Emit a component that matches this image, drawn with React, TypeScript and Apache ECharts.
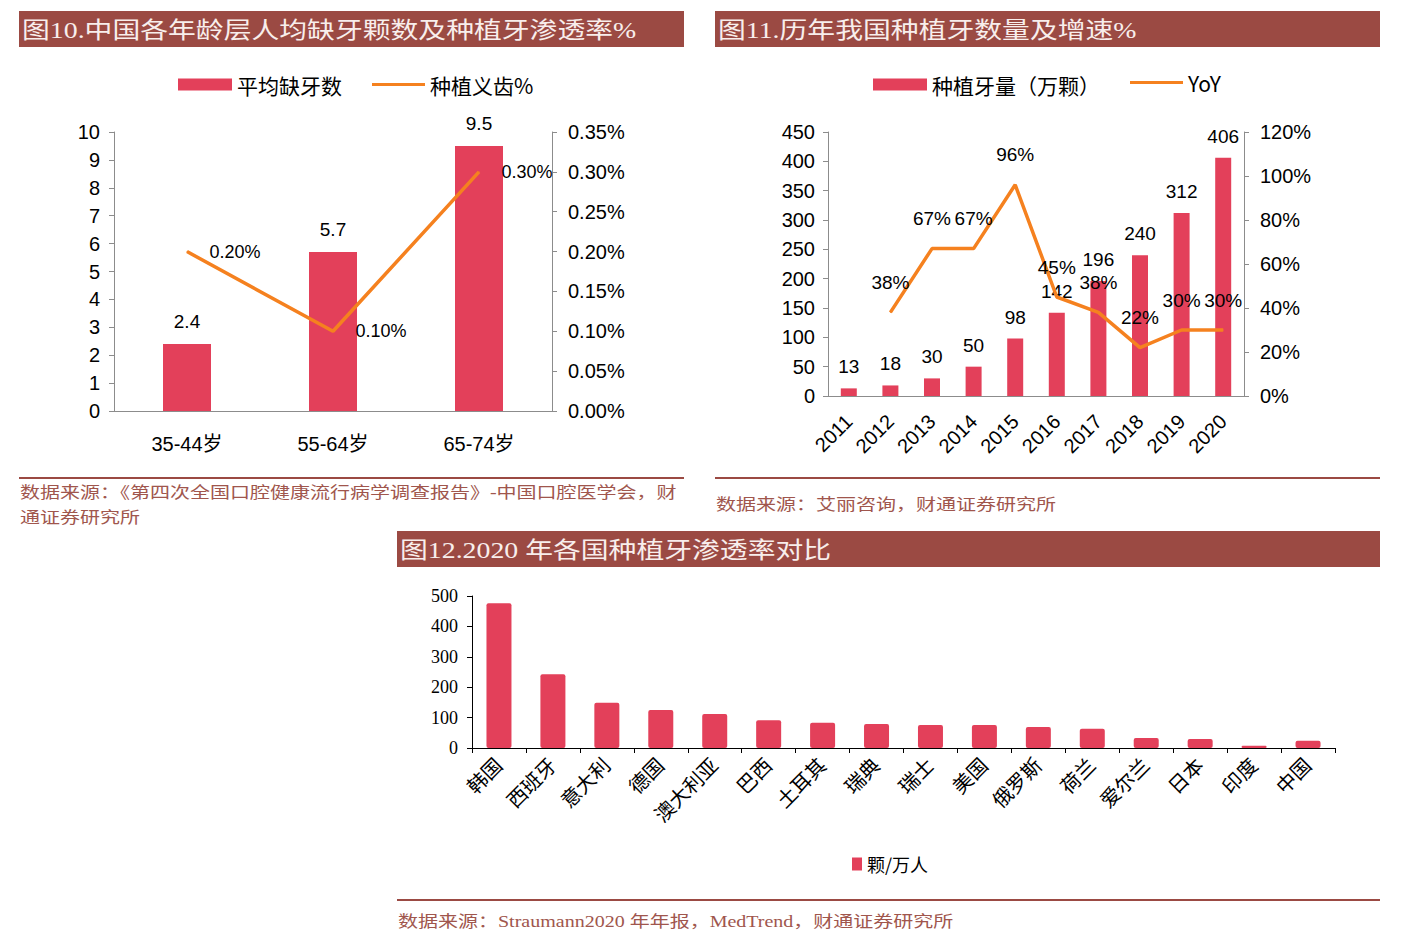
import React, { useEffect, useRef } from "react";
import * as echarts from "echarts";

// ---------- data ----------
const ageGroups = ["35-44岁", "55-64岁", "65-74岁"];
const missingTeeth = [2.4, 5.7, 9.5];
const implantRate = [0.2, 0.1, 0.3];

const years = ["2011", "2012", "2013", "2014", "2015", "2016", "2017", "2018", "2019", "2020"];
const implantCount = [13, 18, 30, 50, 98, 142, 196, 240, 312, 406];
const yoy = [null, 38, 67, 67, 96, 45, 38, 22, 30, 30];

const countries = ["韩国", "西班牙", "意大利", "德国", "澳大利亚", "巴西", "土耳其", "瑞典", "瑞士", "美国", "俄罗斯", "荷兰", "爱尔兰", "日本", "印度", "中国"];
const density = [476, 243, 149, 125, 112, 91, 83, 79, 76, 76, 69, 63, 33, 30, 7, 24];

const titles = [
  "图10.中国各年龄层人均缺牙颗数及种植牙渗透率%",
  "图11.历年我国种植牙数量及增速%",
  "图12.2020 年各国种植牙渗透率对比",
];
const sources = [
  "数据来源：《第四次全国口腔健康流行病学调查报告》-中国口腔医学会，财",
  "通证券研究所",
  "数据来源：艾丽咨询，财通证券研究所",
  "数据来源：Straumann2020 年年报，MedTrend，财通证券研究所",
];

// ---------- styles ----------
const RED = "#E3405A";
const ORANGE = "#F5811F";
const BROWN = "#9B4A43";
const GRAY = "#8C8C8C";
const SANS = "'Liberation Sans', 'Noto Sans CJK SC', sans-serif";
const SERIF = "'Liberation Serif', 'Noto Sans CJK SC', serif";
const CJK = "'Noto Sans CJK SC', 'Liberation Sans', sans-serif";

function headerText(text: string, x: number, y: number) {
  return {
    type: "text",
    x,
    y,
    scaleX: 1.21,
    z: 10,
    style: {
      text,
      fill: "#F8EEEC",
      fontSize: 23,
      fontFamily: SERIF,
      align: "left",
      verticalAlign: "middle",
    },
  };
}

function sourceText(text: string, x: number, y: number) {
  return {
    type: "text",
    x,
    y,
    scaleX: 1.25,
    style: {
      text,
      fill: "#A0564D",
      fontSize: 16,
      fontFamily: SERIF,
      align: "left",
      verticalAlign: "middle",
    },
  };
}

function legendCfg(name: string, left: number, top: number, w: number, h: number, fs: number) {
  return {
    data: [{ name, icon: "rect" }],
    left,
    top,
    padding: 0,
    itemGap: 0,
    itemWidth: w,
    itemHeight: h,
    textStyle: { fontSize: fs, fontFamily: CJK, color: "#000" },
  };
}

const axisLabelSans = { color: "#000", fontSize: 20, fontFamily: SANS };

export default function App() {
  const ref = useRef<HTMLDivElement>(null);

  useEffect(() => {
    if (!ref.current) return;
    const chart = echarts.init(ref.current, undefined, { renderer: "svg" });
    const option: any = {
      animation: false,
      backgroundColor: "#fff",
      grid: [
        { left: 114, top: 132, width: 438, height: 279 },
        { left: 828, top: 132, width: 416, height: 264 },
        { left: 472, top: 596, width: 863, height: 152 },
      ],
      legend: [
        legendCfg("平均缺牙数", 178, 74, 54, 12, 21),
        legendCfg("种植义齿%", 372, 74, 53, 3, 21),
        legendCfg("种植牙量（万颗）", 873, 74, 54, 12, 21),
        legendCfg("YoY", 1130, 72, 53, 3, 21),
        legendCfg("颗/万人", 852, 855, 10, 13, 18),
      ],
      xAxis: [
        {
          type: "category",
          gridIndex: 0,
          data: ageGroups,
          axisLine: { lineStyle: { color: GRAY, width: 1 } },
          axisTick: { show: false },
          axisLabel: { ...axisLabelSans, margin: 23 },
        },
        {
          type: "category",
          gridIndex: 1,
          data: years,
          axisLine: { lineStyle: { color: GRAY, width: 1 } },
          axisTick: { show: false },
          axisLabel: { ...axisLabelSans, fontSize: 20, rotate: 45, margin: 22, interval: 0 },
        },
        {
          type: "category",
          gridIndex: 2,
          data: countries,
          axisLine: { lineStyle: { color: "#000", width: 1 } },
          axisTick: { show: true, length: 5, lineStyle: { color: "#000" } },
          axisLabel: { color: "#000", fontSize: 20, fontFamily: SERIF, rotate: 45, margin: 14, interval: 0 },
        },
      ],
      yAxis: [
        {
          type: "value",
          gridIndex: 0,
          min: 0,
          max: 10,
          interval: 1,
          axisLine: { show: true, lineStyle: { color: GRAY } },
          axisTick: { show: true, length: 5, lineStyle: { color: GRAY } },
          splitLine: { show: false },
          axisLabel: { ...axisLabelSans, margin: 14 },
        },
        {
          type: "value",
          gridIndex: 0,
          position: "right",
          min: 0,
          max: 0.35,
          interval: 0.05,
          axisLine: { show: true, lineStyle: { color: GRAY } },
          axisTick: { show: true, length: 5, lineStyle: { color: GRAY } },
          splitLine: { show: false },
          axisLabel: { ...axisLabelSans, margin: 16, formatter: (v: number) => v.toFixed(2) + "%" },
        },
        {
          type: "value",
          gridIndex: 1,
          min: 0,
          max: 450,
          interval: 50,
          axisLine: { show: true, lineStyle: { color: GRAY } },
          axisTick: { show: true, length: 5, lineStyle: { color: GRAY } },
          splitLine: { show: false },
          axisLabel: { ...axisLabelSans, margin: 13 },
        },
        {
          type: "value",
          gridIndex: 1,
          position: "right",
          min: 0,
          max: 120,
          interval: 20,
          axisLine: { show: true, lineStyle: { color: GRAY } },
          axisTick: { show: true, length: 5, lineStyle: { color: GRAY } },
          splitLine: { show: false },
          axisLabel: { ...axisLabelSans, margin: 16, formatter: (v: number) => v + "%" },
        },
        {
          type: "value",
          gridIndex: 2,
          min: 0,
          max: 500,
          interval: 100,
          axisLine: { show: true, lineStyle: { color: "#000" } },
          axisTick: { show: true, length: 5, lineStyle: { color: "#000" } },
          splitLine: { show: false },
          axisLabel: { color: "#000", fontSize: 18, fontFamily: SERIF, margin: 14 },
        },
      ],
      series: [
        {
          name: "平均缺牙数",
          type: "bar",
          xAxisIndex: 0,
          yAxisIndex: 0,
          data: missingTeeth,
          barWidth: 48,
          itemStyle: { color: RED },
          label: { show: true, position: "top", distance: 13, color: "#000", fontSize: 19, fontFamily: SANS },
        },
        {
          name: "种植义齿%",
          type: "line",
          xAxisIndex: 0,
          yAxisIndex: 1,
          data: implantRate,
          symbol: "circle",
          symbolSize: 1,
          itemStyle: { color: ORANGE },
          lineStyle: { color: ORANGE, width: 3.5 },
          z: 5,
          label: {
            show: true,
            position: "right",
            distance: 22,
            color: "#000",
            fontSize: 18,
            fontFamily: SANS,
            formatter: (p: any) => Number(p.value).toFixed(2) + "%",
          },
        },
        {
          name: "种植牙量（万颗）",
          type: "bar",
          xAxisIndex: 1,
          yAxisIndex: 2,
          data: implantCount,
          barWidth: 16,
          itemStyle: { color: RED },
          label: { show: true, position: "top", distance: 12, color: "#000", fontSize: 19, fontFamily: SANS },
        },
        {
          name: "YoY",
          type: "line",
          xAxisIndex: 1,
          yAxisIndex: 3,
          data: yoy,
          symbol: "circle",
          symbolSize: 1,
          itemStyle: { color: ORANGE },
          lineStyle: { color: ORANGE, width: 3.5 },
          z: 5,
          label: {
            show: true,
            position: "top",
            distance: 20,
            color: "#000",
            fontSize: 19,
            fontFamily: SANS,
            formatter: "{c}%",
          },
        },
        {
          name: "颗/万人",
          type: "bar",
          xAxisIndex: 2,
          yAxisIndex: 4,
          data: density,
          barWidth: 25,
          itemStyle: { color: RED, borderRadius: 2 },
        },
      ],
      graphic: [
        { type: "rect", shape: { x: 19, y: 11, width: 665, height: 36 }, style: { fill: BROWN } },
        { type: "rect", shape: { x: 715, y: 11, width: 665, height: 36 }, style: { fill: BROWN } },
        { type: "rect", shape: { x: 397, y: 531, width: 983, height: 36 }, style: { fill: BROWN } },
        headerText(titles[0], 22, 30),
        headerText(titles[1], 718, 30),
        headerText(titles[2], 400, 550),
        { type: "line", shape: { x1: 19, y1: 478, x2: 684, y2: 478 }, style: { stroke: BROWN, lineWidth: 2 } },
        { type: "line", shape: { x1: 715, y1: 478, x2: 1380, y2: 478 }, style: { stroke: BROWN, lineWidth: 2 } },
        { type: "line", shape: { x1: 397, y1: 900, x2: 1380, y2: 900 }, style: { stroke: BROWN, lineWidth: 2 } },
        sourceText(sources[0], 20, 493),
        sourceText(sources[1], 20, 518),
        sourceText(sources[2], 716, 505),
        sourceText(sources[3], 398, 922),
      ],
    };
    chart.setOption(option);
    return () => chart.dispose();
  }, []);

  return (
    <div
      ref={ref}
      style={{ position: "fixed", left: 0, top: 0, width: 1422, height: 948, background: "#fff" }}
    />
  );
}
